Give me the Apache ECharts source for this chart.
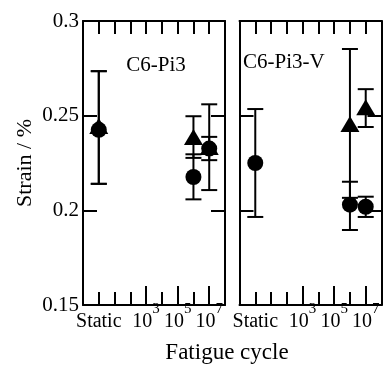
<!DOCTYPE html>
<html>
<head>
<meta charset="utf-8">
<script src="https://cdn.jsdelivr.net/npm/echarts@6/dist/echarts.min.js"></script>
<style>
  html, body { margin: 0; padding: 0; background: #fff; }
  #chart { width: 383px; height: 365px; }
</style>
</head>
<body>
<div id="chart"></div>
<script>
// x positions: Static = 1, 10^n = n + 1
const tickValues = [1, 4, 6, 8];
const tickLabels = ['Static', '10^3', '10^5', '10^7'];
const panelTitles = ['C6-Pi3', 'C6-Pi3-V'];

// left panel (C6-Pi3)
const leftCircleX = [1, 7, 8];
const leftCircle = [0.2425, 0.2176, 0.2326];
const leftCircleLow = [0.214, 0.2058, 0.2265];
const leftCircleHigh = [0.2735, 0.2296, 0.2388];
const leftTriangleX = [1, 7, 8];
const leftTriangle = [0.2445, 0.2387, 0.2334];
const leftTriangleLow = [0.214, 0.2277, 0.2107];
const leftTriangleHigh = [0.2735, 0.2497, 0.256];

// right panel (C6-Pi3-V)
const rightCircleX = [1, 7, 8];
const rightCircle = [0.225, 0.203, 0.2019];
const rightCircleLow = [0.1965, 0.1896, 0.1965];
const rightCircleHigh = [0.2535, 0.2151, 0.2072];
const rightTriangleX = [7, 8];
const rightTriangle = [0.2456, 0.2545];
const rightTriangleLow = [0.2066, 0.244];
const rightTriangleHigh = [0.2852, 0.264];

const FONT = 'Liberation Serif';
const BLACK = '#000';

const fmtTick = (v) => {
    const i = tickValues.indexOf(v);
    if (i < 0) return '';
    const parts = tickLabels[i].split('^');
    return parts.length > 1 ? '{b|' + parts[0] + '}{sup|' + parts[1] + '}' : '{b|' + parts[0] + '}';
};

const zip = (xs, ys) => xs.map((x, i) => [x, ys[i]]);
const zip3 = (xs, lo, hi) => xs.map((x, i) => [x, lo[i], hi[i]]);

const renderErr = (params, api) => {
    const x = api.value(0);
    const top = api.coord([x, api.value(2)]);
    const bot = api.coord([x, api.value(1)]);
    const hw = 8;
    const style = { stroke: BLACK, lineWidth: 2 };
    return {
        type: 'group',
        children: [
            { type: 'line', shape: { x1: top[0], y1: top[1], x2: bot[0], y2: bot[1] }, style },
            { type: 'line', shape: { x1: top[0] - hw, y1: top[1], x2: top[0] + hw, y2: top[1] }, style },
            { type: 'line', shape: { x1: bot[0] - hw, y1: bot[1], x2: bot[0] + hw, y2: bot[1] }, style }
        ]
    };
};

const grids = [
    { left: 83, top: 21, width: 142, height: 284 },
    { left: 239.5, top: 21, width: 142, height: 284 }
];

const xAxis = [];
const yAxis = [];
grids.forEach((g, gi) => {
    const line = { show: true, onZero: false, lineStyle: { color: BLACK, width: 2 } };
    const tick = { inside: true, length: 13, lineStyle: { color: BLACK, width: 2 } };
    xAxis.push({
        gridIndex: gi, type: 'value', position: 'bottom', min: 0, max: 9, interval: 1,
        axisLine: line,
        axisTick: tick,
        axisLabel: {
            customValues: tickValues, formatter: fmtTick, margin: -3,
            color: BLACK, fontFamily: FONT, fontSize: 20,
            rich: {
                b: { fontSize: 20, fontFamily: FONT, color: BLACK, lineHeight: 30, verticalAlign: 'bottom' },
                sup: { fontSize: 15, fontFamily: FONT, color: BLACK, lineHeight: 14, verticalAlign: 'top' }
            }
        },
        splitLine: { show: false }
    });
    xAxis.push({
        gridIndex: gi, type: 'value', position: 'bottom', min: 0, max: 9,
        axisLine: { show: false, onZero: false },
        axisTick: { inside: true, length: 19, customValues: [4, 6, 8], lineStyle: { color: BLACK, width: 2 } },
        axisLabel: { show: false },
        splitLine: { show: false }
    });
    xAxis.push({
        gridIndex: gi, type: 'value', position: 'top', min: 0, max: 9, interval: 1,
        axisLine: line,
        axisTick: tick,
        axisLabel: { show: false },
        splitLine: { show: false }
    });
    yAxis.push({
        gridIndex: gi, type: 'value', position: 'left', min: 0.15, max: 0.3, interval: 0.05,
        axisLine: line,
        axisTick: { inside: true, length: 14, lineStyle: { color: BLACK, width: 2 } },
        axisLabel: { show: gi === 0, margin: 4, color: BLACK, fontFamily: FONT, fontSize: 21 },
        splitLine: { show: false },
        name: gi === 0 ? 'Strain / %' : '',
        nameLocation: 'middle', nameGap: 47,
        nameTextStyle: { color: BLACK, fontFamily: FONT, fontSize: 22 }
    });
    yAxis.push({
        gridIndex: gi, type: 'value', position: 'right', min: 0.15, max: 0.3, interval: 0.05,
        axisLine: line,
        axisTick: { inside: true, length: 14, lineStyle: { color: BLACK, width: 2 } },
        axisLabel: { show: false },
        splitLine: { show: false }
    });
});

const panelSeries = (gi, cX, c, cLo, cHi, tX, t, tLo, tHi) => [
    { type: 'custom', xAxisIndex: gi * 3, yAxisIndex: gi * 2, renderItem: renderErr,
      encode: { x: 0, y: [1, 2] }, data: zip3(cX, cLo, cHi), z: 2 },
    { type: 'custom', xAxisIndex: gi * 3, yAxisIndex: gi * 2, renderItem: renderErr,
      encode: { x: 0, y: [1, 2] }, data: zip3(tX, tLo, tHi), z: 2 },
    { type: 'scatter', xAxisIndex: gi * 3, yAxisIndex: gi * 2, symbol: 'circle', symbolSize: 16,
      itemStyle: { color: BLACK, opacity: 1 }, data: zip(cX, c), z: 3 },
    { type: 'scatter', xAxisIndex: gi * 3, yAxisIndex: gi * 2, symbol: 'triangle', symbolSize: [19, 16],
      itemStyle: { color: BLACK, opacity: 1 }, data: zip(tX, t), z: 4 }
];

const option = {
    animation: false,
    grid: grids,
    xAxis: xAxis,
    yAxis: yAxis,
    graphic: [
        { type: 'text', x: 156, y: 65, style: { text: panelTitles[0], fill: BLACK, font: '21px "Liberation Serif"', align: 'center', verticalAlign: 'middle' } },
        { type: 'text', x: 243, y: 62, style: { text: panelTitles[1], fill: BLACK, font: '21px "Liberation Serif"', align: 'left', verticalAlign: 'middle' } },
        { type: 'text', x: 227, y: 353, style: { text: 'Fatigue cycle', fill: BLACK, font: '23px "Liberation Serif"', align: 'center', verticalAlign: 'middle' } }
    ],
    series: [
        ...panelSeries(0, leftCircleX, leftCircle, leftCircleLow, leftCircleHigh,
            leftTriangleX, leftTriangle, leftTriangleLow, leftTriangleHigh),
        ...panelSeries(1, rightCircleX, rightCircle, rightCircleLow, rightCircleHigh,
            rightTriangleX, rightTriangle, rightTriangleLow, rightTriangleHigh)
    ]
};

const myChart = echarts.init(document.getElementById('chart'));
myChart.setOption(option);
</script>
</body>
</html>
